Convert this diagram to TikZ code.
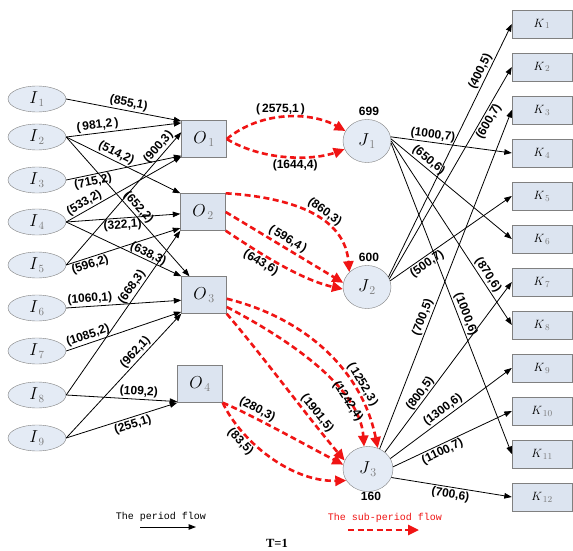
\documentclass[tikz,border=0pt]{standalone}
\usepackage{fontspec}
\setmainfont{Liberation Serif}
\newfontfamily\lab{Liberation Sans}
\newfontfamily\mono{Liberation Mono}
\usetikzlibrary{arrows.meta,calc,shapes.geometric}
\definecolor{nodeline}{RGB}{128,128,128}
\definecolor{ellfill}{RGB}{228,235,245}
\definecolor{boxfill}{RGB}{220,228,240}
\definecolor{subgray}{RGB}{120,120,120}
\definecolor{redc}{RGB}{240,20,20}
\newcommand\mynl[2]{$#1_{\textcolor{subgray}{\,#2}}$}
\begin{document}
\begin{tikzpicture}[x=1pt,y=-1pt,
  inode/.style={ellipse, draw=nodeline, fill=ellfill, minimum width=58pt, minimum height=26pt, inner sep=0pt, font=\fontsize{16}{16}\selectfont},
  obox/.style={rectangle, draw=nodeline, fill=boxfill, minimum width=45pt, minimum height=37pt, inner sep=0pt, font=\fontsize{17}{17}\selectfont},
  jnode/.style={ellipse, draw=nodeline, fill=ellfill, minimum width=48pt, minimum height=43pt, inner sep=0pt, font=\fontsize{17}{17}\selectfont},
  kbox/.style={rectangle, draw=nodeline, fill=boxfill, minimum width=60pt, minimum height=28pt, inner sep=0pt, font=\fontsize{12.5}{12.5}\selectfont},
  flow/.style={draw=black, line width=0.8pt, -{Triangle[length=7.5pt,width=5.5pt]}},
  sub/.style={draw=redc, line width=2.6pt, dash pattern=on 6pt off 3.5pt, -{Triangle[length=11pt,width=10pt]}},
  lbl/.style={font=\lab\bfseries\fontsize{12}{12}\selectfont, inner sep=1.5pt, sloped},
  numlbl/.style={font=\lab\bfseries\fontsize{12}{12}\selectfont, inner sep=0pt},
  legtext/.style={font=\mono\fontsize{10}{10}\selectfont, inner sep=0pt}
]
\useasboundingbox (0,0) rectangle (573,551);
\fill[white] (0,0) rectangle (573,551);

% I nodes
\foreach \k/\yy in {1/99,2/137,3/180,4/222,5/265,6/308,7/351,8/395,9/438}
  \node[inode] (I\k) at (37,\yy) {\mynl{I}{\k}};
% O nodes
\node[obox] (O1) at (204,139) {\mynl{O}{1}};
\node[obox] (O2) at (203,212) {\mynl{O}{2}};
\node[obox] (O3) at (204,295) {\mynl{O}{3}};
\node[obox] (O4) at (200,384) {\mynl{O}{4}};
% J nodes
\node[jnode] (J1) at (367,141) {\mynl{J}{1}};
\node[jnode] (J2) at (367,287) {\mynl{J}{2}};
\node[jnode, minimum width=50pt, minimum height=45pt] (J3) at (368,469) {\mynl{J}{3}};
\node[numlbl] (n1) at (369,111) {699};
\node[numlbl] (n2) at (369,257) {600};
\node[numlbl] (n3) at (371,496) {160};
% K nodes
\foreach \k in {1,...,12}
  \node[kbox] (K\k) at (542,{24+43*(\k-1)}) {\mynl{K}{\k}};

% I -> O flows
\draw[flow] (I1.east) -- ($(O1.north west)!0.02!(O1.south west)$) node[lbl,above,pos=0.53]{(855,1)};
\draw[flow] (I2.east) -- ($(O1.north west)!0.07!(O1.south west)$) node[lbl,above,pos=0.28]{(\,981,2\,)};
\draw[flow] (I2.east) -- ($(O2.north west)!0.0!(O2.south west)$) node[lbl,above,pos=0.41]{(514,2)};
\draw[flow] (I2.east) -- ($(O3.north west)!0.18!(O3.north east)$) node[lbl,above,pos=0.54]{(652,2)};
\draw[flow] (I3.east) -- ($(O1.north west)!0.95!(O1.south west)$) node[lbl,below,pos=0.22]{(715,2)};
\draw[flow] (I4.east) -- ($(O1.north west)!0.97!(O1.south west)$) node[lbl,above,pos=0.19]{(533,2)};
\draw[flow] (I4.east) -- ($(O2.north west)!0.55!(O2.south west)$) node[lbl,below,pos=0.49]{(322,1)};
\draw[flow] (I4.east) -- (O3.north west) node[lbl,above,pos=0.69,inner sep=0pt]{(638,3)};
\draw[flow] (I5.east) -- ($(O1.north west)!0.32!(O1.south west)$) node[lbl,above,pos=0.85]{(900,3)};
\draw[flow] (I5.east) -- ($(O2.north west)!0.93!(O2.south west)$) node[lbl,below,pos=0.19]{(596,2)};
\draw[flow] (I6.east) -- ($(O3.north west)!0.64!(O3.south west)$) node[lbl,above,pos=0.21]{(1060,1)};
\draw[flow] (I7.east) -- ($(O3.north west)!0.95!(O3.south west)$) node[lbl,above,pos=0.21]{(1085,2)};
\draw[flow] (I8.east) -- (O2.south west) node[lbl,above,pos=0.63]{(668,3)};
\draw[flow] (I8.east) -- ($(O4.north west)!0.97!(O4.south west)$) node[lbl,above,pos=0.65]{(109,2)};
\draw[flow] (I9.east) -- (O3.south west) node[lbl,above,pos=0.65]{(962,1)};
\draw[flow] (I9.east) -- (O4.south west) node[lbl,below,pos=0.58]{(255,1)};

% O -> J sub-period flows
\draw[sub] (O1.east) .. controls (262,110) and (312,112) .. (J1.155) node[lbl,above,pos=0.45,sloped=false]{(\,2575,1\,)};
\draw[sub] (O1.east) .. controls (265,162) and (315,160) .. (J1.200) node[lbl,below,pos=0.55,sloped=false]{(1644,4)};
\draw[sub] (O2.north east) .. controls (300,198) and (345,220) .. (J2.140) node[lbl,above,pos=0.55]{(860,3)};
\draw[sub] (O2.east) -- (J2.170) node[lbl,above,pos=0.49]{(\,596,4\,)};
\draw[sub] (O2.south east) .. controls (262,255) and (302,280) .. (J2.185) node[lbl,below,pos=0.35]{(643,6)};
\draw[sub] ($(O3.north east)!0.6!(O3.south east)$) .. controls (305,318) and (362,370) .. (J3.65) node[lbl,above,pos=0.72]{(\,1252,3\,)};
\draw[sub] ($(O3.north east)!0.82!(O3.south east)$) .. controls (290,340) and (360,388) .. (J3.100) node[lbl,pos=0.73,inner sep=0.5pt]{(1242,4)};
\draw[sub] (O3.south east) .. controls (262,355) and (310,420) .. (J3.160) node[lbl,above,pos=0.7]{(1901,5)};
\draw[sub] (O4.south east) .. controls (252,415) and (300,442) .. (J3.170) node[lbl,above,pos=0.3]{(280,3)};
\draw[sub] (O4.south east) .. controls (240,440) and (290,482) .. (J3.208) node[lbl,below,pos=0.3]{(83,5)};

% J -> K flows
\draw[flow] (J1.10) -- (K4.west) node[lbl,above,pos=0.34]{(1000,7)};
\draw[flow] (J1.5) -- (K6.west) node[lbl,above,pos=0.27]{(650,6)};
\draw[flow] (J1.0) -- (K8.west) node[lbl,above,pos=0.75]{(870,6)};
\draw[flow] (J1.-5) -- (K11.west) node[lbl,above,pos=0.56]{(1000,6)};
\draw[flow] (J2.25) -- (K1.west) node[lbl,above,pos=0.80]{(400,5)};
\draw[flow] (J2.20) -- (K2.west) node[lbl,below,pos=0.76]{(600,7)};
\draw[flow] (J2.15) -- (K5.west) node[lbl,below,pos=0.27]{(500,7)};
\draw[flow] (J3.60) -- (K3.west) node[lbl,above,pos=0.38]{(700,5)};
\draw[flow] (J3.45) -- (K7.west) node[lbl,above,pos=0.32,inner sep=0.5pt]{(800,5)};
\draw[flow] (J3.25) -- (K9.west) node[lbl,above,pos=0.47]{(1300,6)};
\draw[flow] (J3.5) -- (K10.west) node[lbl,below,pos=0.39]{(1100,7)};
\draw[flow] (J3.-20) -- (K12.west) node[lbl,below,pos=0.5]{(700,6)};

% legend
\node[legtext] (leg1) at (161,517) {The period flow};
\coordinate (la) at (140,527);
\coordinate (lb) at (196,527);
\draw[flow, line width=1pt] (la) -- (lb);
\node[legtext, text=redc] (leg2) at (385,518) {The sub-period flow};
\coordinate (lc) at (348,530);
\coordinate (ld) at (419,530);
\draw[sub] (lc) -- (ld);
\node[font=\bfseries\fontsize{12.5}{12.5}\selectfont, inner sep=0pt] (T) at (277,543) {T=1};
\end{tikzpicture}
\end{document}
